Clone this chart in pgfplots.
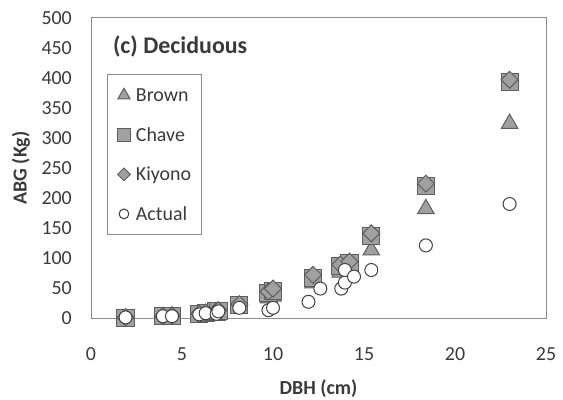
\documentclass[border=0pt]{standalone}
\usepackage{pgfplots}
\pgfplotsset{compat=1.18}
\usepackage{fontspec}
\setmainfont{Carlito}
\definecolor{mfill}{HTML}{A0A0A0}
\definecolor{medge}{HTML}{5E5E5E}
\definecolor{cedge}{HTML}{404040}
\definecolor{frame}{HTML}{8C8C8C}
\definecolor{txt}{HTML}{3A3A3A}
\begin{document}
\begin{tikzpicture}
\useasboundingbox (0,0) rectangle (563bp,400bp);
\begin{axis}[
  at={(91bp,82bp)}, anchor=south west,
  scale only axis, width=455bp, height=300bp,
  xmin=0, xmax=25, ymin=0, ymax=500,
  xtick={0,5,...,25}, ytick={0,50,...,500},
  major tick length=0pt, tick style={draw=none},
  axis line style={draw=frame, line width=1bp},
  clip=false,
  /pgf/number format/assume math mode=true,
  ticklabel style={font=\fontsize{20}{24}\selectfont, text=txt},
  xticklabel style={anchor=base, inner sep=0pt, yshift=-42bp},
  yticklabel style={anchor=east, inner sep=0pt, xshift=-19bp},
  xlabel={DBH (cm)}, ylabel={ABG (Kg)},
  label style={font=\bfseries\fontsize{20}{24}\selectfont, text=txt},
  xlabel style={at={(axis description cs:0.5,-0.2367)}, anchor=center},
  ylabel style={at={(axis description cs:-0.1538,0.5)}, anchor=center},
  legend style={at={(0.0352,0.8133)}, anchor=north west, draw=frame, line width=1bp,
    font=\fontsize{20}{24}\selectfont, text=txt, inner xsep=10bp, inner ysep=13.75bp,
    row sep=26.5bp, column sep=5.5bp,
    nodes={inner sep=0pt, text height=13bp, text depth=0bp}},
  legend cell align=left,
  legend image code/.code={\draw[#1, every mark/.append style={scale=0.75}] plot coordinates {(0bp,0bp)};},
]
\addplot[only marks, mark=triangle*, mark size=9.5bp, mark options={fill=mfill, draw=medge, line width=1bp}]
coordinates {(1.9,0) (3.95,2) (4.45,3) (5.95,5) (6.3,7) (6.9,9) (7.0,10) (8.15,18) (9.75,33) (10.0,36) (12.2,58) (13.7,76) (14.2,80) (15.4,113) (18.4,182) (23.0,324)};
\addlegendentry{Brown}
\addplot[only marks, mark=square*, mark size=8.6bp, mark options={fill=mfill, draw=medge, line width=1bp}]
coordinates {(1.9,0) (3.95,3) (4.45,3) (5.95,7) (6.3,8) (6.9,11) (7.0,12) (8.15,22) (9.75,41) (10.0,45) (12.2,67) (13.7,86) (14.2,91) (15.4,136) (18.4,220) (23.0,393)};
\addlegendentry{Chave}
\addplot[only marks, mark=square*, mark size=6bp, mark options={rotate=45, fill=mfill, draw=medge, line width=1bp}]
coordinates {(1.9,1) (3.95,3) (4.45,4) (5.95,7) (6.3,9) (6.9,12) (7.0,13) (8.15,23) (9.75,44) (10.0,49) (12.2,72) (13.7,89) (14.2,94) (15.4,141) (18.4,224) (23.0,397)};
\addlegendentry{Kiyono}
\addplot[only marks, mark=*, mark size=6.5bp, mark options={fill=white, draw=cedge, line width=1bp}]
coordinates {(1.9,1) (3.95,3) (4.45,3) (5.95,6) (6.3,8) (6.9,7) (7.0,11) (8.15,17) (9.75,13) (10.0,17) (11.95,27) (12.6,49) (13.75,49) (13.95,59) (13.95,80) (14.45,69) (15.4,80) (18.4,121) (23.0,190)};
\addlegendentry{Actual}
\node[anchor=base west, inner sep=0pt, font=\bfseries\fontsize{24}{28}\selectfont, text=txt] at (axis cs:1.2,441) {(c) Deciduous};
\end{axis}
\end{tikzpicture}
\end{document}
